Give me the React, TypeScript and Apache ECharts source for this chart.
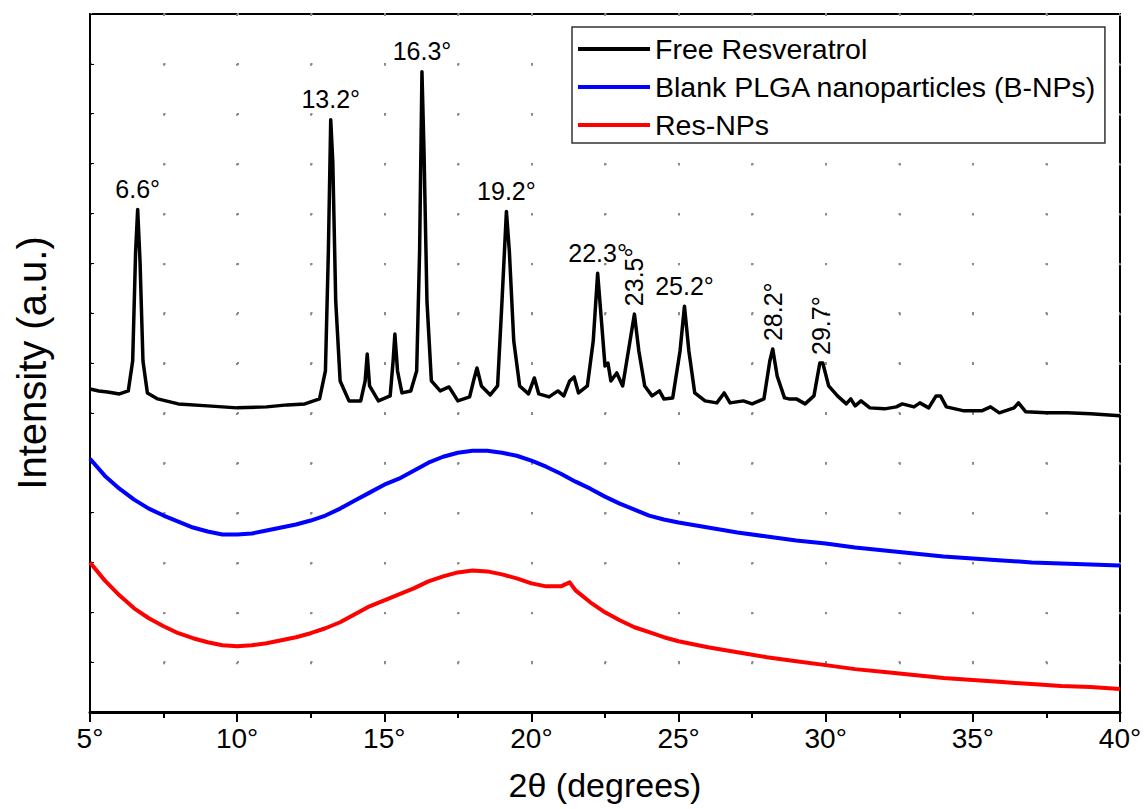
import React, { useEffect, useRef } from "react";
import * as echarts from "echarts";

// Free Resveratrol (2θ in degrees, intensity a.u.)
const freeResDeg = [
  5.0, 5.3, 5.6, 6.0, 6.3, 6.45, 6.55, 6.62, 6.7, 6.8, 6.95, 7.3, 8.0, 9.0, 10.0, 11.0, 11.7, 12.3, 12.8,
  13.0, 13.1, 13.18, 13.25, 13.35, 13.5, 13.8, 14.2, 14.35, 14.42, 14.5, 14.8, 15.2, 15.3, 15.36, 15.45,
  15.6, 15.9, 16.1, 16.2, 16.28, 16.35, 16.45, 16.6, 16.9, 17.2, 17.5, 17.9, 18.05, 18.15, 18.3, 18.6,
  18.85, 19.0, 19.15, 19.25, 19.4, 19.6, 19.9, 20.1, 20.25, 20.6, 20.9, 21.1, 21.3, 21.45, 21.6, 21.9,
  22.1, 22.25, 22.38, 22.5, 22.6, 22.7, 22.9, 23.1, 23.35, 23.5, 23.65, 23.85, 24.1, 24.35, 24.5, 24.8,
  25.05, 25.2, 25.35, 25.55, 25.9, 26.3, 26.55, 26.75, 27.2, 27.5, 27.9, 28.1, 28.2, 28.35, 28.6, 28.75,
  29.0, 29.3, 29.6, 29.8, 29.9, 30.1, 30.4, 30.7, 30.85, 31.0, 31.2, 31.5, 32.0, 32.4, 32.6, 33.0, 33.2,
  33.5, 33.75, 33.9, 34.1, 34.7, 35.3, 35.6, 35.9, 36.4, 36.55, 36.8, 37.5, 38.2, 39.0, 39.5, 40.0,
];
const freeResInt = [
  648, 644, 642, 638, 644, 704, 924, 1008, 904, 704, 640, 628, 618, 614, 610, 612, 616, 618, 628,
  684, 924, 1188, 1104, 824, 664, 624, 624, 664, 718, 654, 624, 634, 704, 758, 684,
  640, 644, 684, 924, 1284, 1124, 824, 664, 644, 652, 624, 632, 668, 690, 654, 636,
  654, 824, 1004, 924, 744, 654, 638, 670, 638, 632, 644, 634, 664, 672, 640, 654,
  744, 880, 784, 694, 700, 664, 680, 654, 744, 798, 724, 654, 634, 644, 628, 630,
  724, 814, 724, 640, 624, 620, 640, 620, 624, 618, 628, 704, 728, 674, 630, 628,
  628, 618, 634, 700, 700, 654, 634, 618, 628, 614, 624, 610, 608, 612, 618, 612, 620,
  610, 634, 634, 612, 604, 604, 612, 600, 610, 620, 602, 600, 600, 598, 596, 594,
];

// Blank PLGA nanoparticles (B-NPs)
const blankDeg = [
  5.0, 5.5, 6.0, 6.5, 7.0, 7.5, 8.0, 8.5, 9.0, 9.5, 10.0, 10.5, 11.0, 11.5, 12.0, 12.5, 13.0, 13.5,
  14.0, 14.5, 15.0, 15.5, 16.0, 16.5, 17.0, 17.5, 18.0, 18.5, 19.0, 19.5, 20.0, 20.5, 21.0, 21.5, 22.0,
  22.5, 23.0, 23.5, 24.0, 24.5, 25.0, 26.0, 27.0, 28.0, 29.0, 30.0, 31.0, 32.0, 33.0, 34.0, 35.0, 36.0,
  37.0, 38.0, 39.0, 40.0,
];
const blankInt = [
  508, 474, 448, 426, 408, 394, 382, 370, 362, 356, 356, 358, 364, 370, 376, 384, 394, 408,
  424, 440, 456, 468, 484, 500, 512, 520, 524, 524, 520, 514, 504, 492, 478, 462, 448,
  432, 418, 406, 394, 386, 380, 370, 360, 352, 344, 338, 330, 324, 318, 312, 308, 304,
  300, 298, 296, 294,
];

// Res-NPs
const resNPsDeg = [
  5.0, 5.5, 6.0, 6.5, 7.0, 7.5, 8.0, 8.5, 9.0, 9.5, 10.0, 10.5, 11.0, 11.5, 12.0, 12.5, 13.0, 13.5,
  14.0, 14.5, 15.0, 15.5, 16.0, 16.5, 17.0, 17.5, 18.0, 18.5, 19.0, 19.5, 20.0, 20.5, 21.0, 21.3, 21.5,
  22.0, 22.5, 23.0, 23.5, 24.0, 24.5, 25.0, 26.0, 27.0, 28.0, 29.0, 30.0, 31.0, 32.0, 33.0, 34.0, 35.0,
  36.0, 37.0, 38.0, 39.0, 40.0,
];
const resNPsInt = [
  300, 264, 234, 208, 188, 172, 158, 148, 140, 134, 132, 134, 138, 144, 150, 158, 168, 180,
  196, 212, 224, 236, 248, 262, 272, 280, 284, 282, 276, 268, 258, 252, 252, 260, 244,
  220, 200, 184, 170, 160, 150, 142, 130, 120, 110, 102, 94, 86, 80, 74, 68, 64,
  60, 56, 52, 50, 46,
];

// Peak annotations
const peakText = ["6.6°", "13.2°", "16.3°", "19.2°", "22.3°", "23.5°", "25.2°", "28.2°", "29.7°"];
const peakDeg = [6.62, 13.18, 16.28, 19.15, 22.25, 23.5, 25.2, 28.2, 29.85];
const peakVertical = [false, false, false, false, false, true, false, true, true];

const seriesNames = ["Free Resveratrol", "Blank PLGA nanoparticles (B-NPs)", "Res-NPs"];
const seriesColors = ["#000000", "#0000ff", "#ff0000"];

const FONT = "'Liberation Sans', Arial, sans-serif";

function zip(xs: number[], ys: number[]) {
  return xs.map((x, i) => [x, ys[i]]);
}

function peakValue(d: number) {
  let best = 0;
  for (let i = 1; i < freeResDeg.length; i++) {
    if (Math.abs(freeResDeg[i] - d) < Math.abs(freeResDeg[best] - d)) best = i;
  }
  return freeResInt[best];
}

export default function App() {
  const ref = useRef<HTMLDivElement>(null);
  useEffect(() => {
    if (!ref.current) return;
    const chart = echarts.init(ref.current, undefined, { renderer: "svg" });
    const dotted = { color: "#8a8a8a", width: 2, type: [2, 71.5] as any };
    const dottedV = { color: "#8a8a8a", width: 2, type: [2, 47.86] as any };
    const lineData = [zip(freeResDeg, freeResInt), zip(blankDeg, blankInt), zip(resNPsDeg, resNPsInt)];
    const labelBase = { show: true, fontSize: 25, color: "#000", fontFamily: FONT };
    const option: any = {
      animation: false,
      backgroundColor: "#ffffff",
      textStyle: { fontFamily: FONT },
      grid: {
        left: 90,
        right: 25,
        top: 14,
        bottom: 97,
        containLabel: false,
        outerBoundsMode: "none",
        show: true,
        borderColor: "#000",
        borderWidth: 2,
        backgroundColor: "transparent",
      },
      legend: {
        data: seriesNames,
        orient: "vertical",
        left: 572,
        top: 27,
        padding: [7, 8, 3, 6],
        itemWidth: 72,
        itemHeight: 4,
        itemGap: 8,
        borderColor: "#333",
        borderWidth: 1.5,
        backgroundColor: "#fff",
        textStyle: { fontSize: 28.5, color: "#000", fontFamily: FONT, lineHeight: 30 },
        icon: "rect",
        itemStyle: { borderWidth: 0 },
      },
      xAxis: {
        type: "value",
        min: 5,
        max: 40,
        interval: 5,
        name: "2θ (degrees)",
        nameLocation: "middle",
        nameGap: 56,
        nameTextStyle: { fontSize: 34, color: "#000", fontFamily: FONT },
        axisLine: { show: true, lineStyle: { color: "#000", width: 3 } },
        axisTick: { show: true, inside: false, length: 10, lineStyle: { color: "#000", width: 2 } },
        minorTick: { show: true, splitNumber: 2, length: 6, lineStyle: { color: "#000", width: 2 } },
        axisLabel: {
          formatter: (v: number) => `${v}°`,
          fontSize: 28,
          color: "#000",
          margin: 12,
          fontFamily: FONT,
        },
        splitLine: { show: true, lineStyle: dottedV },
        minorSplitLine: { show: true, lineStyle: dottedV },
      },
      yAxis: {
        type: "value",
        min: 0,
        max: 1400,
        interval: 100,
        name: "Intensity (a.u.)",
        nameLocation: "middle",
        nameGap: 38,
        nameTextStyle: { fontSize: 40, color: "#000", fontFamily: FONT },
        axisLine: { show: true, lineStyle: { color: "#000", width: 2 } },
        axisTick: { show: true, inside: true, length: 4, lineStyle: { color: "#000", width: 1 } },
        axisLabel: { show: false },
        splitLine: { show: true, lineStyle: dotted },
      },
      series: [
        ...seriesNames.map((name, i) => ({
          name,
          type: "line",
          data: lineData[i],
          showSymbol: false,
          symbol: "none",
          lineStyle: { color: seriesColors[i], width: i === 0 ? 3.5 : 4, join: "round" },
          itemStyle: { color: seriesColors[i] },
          z: 3 - i,
        })),
        {
          name: "peaks",
          type: "scatter",
          symbolSize: 0,
          silent: true,
          itemStyle: { opacity: 1, color: "#000" },
          data: peakDeg.map((d, i) => ({
            value: [d, peakValue(d)],
            label: peakVertical[i]
              ? {
                  ...labelBase,
                  formatter: peakText[i],
                  position: "top",
                  distance: 8,
                  rotate: 90,
                  align: "left",
                  verticalAlign: "middle",
                }
              : {
                  ...labelBase,
                  formatter: peakText[i],
                  position: "top",
                  distance: 8,
                },
          })),
          label: labelBase,
          z: 5,
        },
      ],
    };
    chart.setOption(option);
    return () => chart.dispose();
  }, []);
  return (
    <div
      ref={ref}
      style={{ position: "fixed", left: 0, top: 0, width: 1145, height: 809, background: "#fff" }}
    />
  );
}
